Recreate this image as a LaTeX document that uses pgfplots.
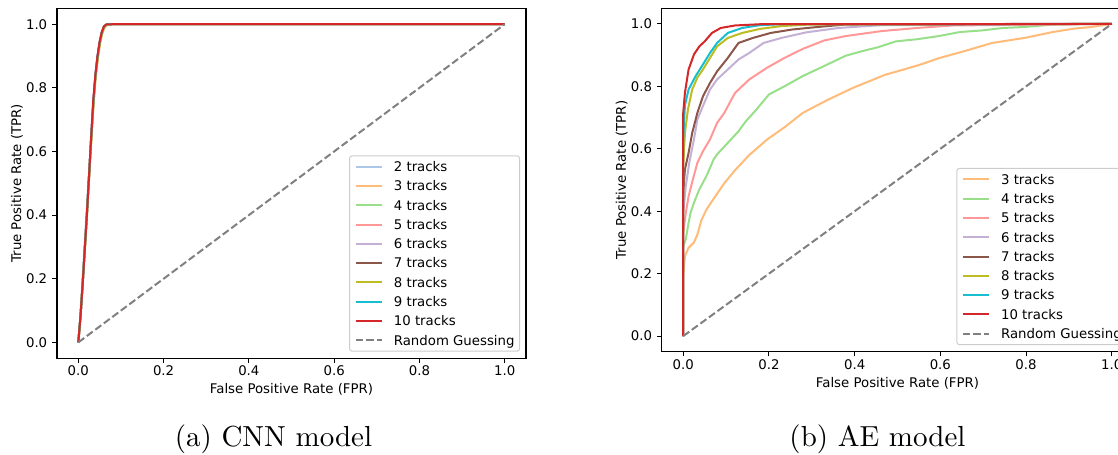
\documentclass[border=0pt]{standalone}
\usepackage{fontspec}
\usepackage{pgfplots}
\pgfplotsset{compat=1.18}
\newfontfamily\dejavu{DejaVu Sans}
\definecolor{c2}{HTML}{AEC7E8}
\definecolor{c3}{HTML}{FFBB78}
\definecolor{c4}{HTML}{98DF8A}
\definecolor{c5}{HTML}{FF9896}
\definecolor{c6}{HTML}{C5B0D5}
\definecolor{c7}{HTML}{8C564B}
\definecolor{c8}{HTML}{BCBD22}
\definecolor{c9}{HTML}{17BECF}
\definecolor{c10}{HTML}{D62728}
\definecolor{rg}{HTML}{808080}
\pgfplotsset{
  rocstyle/.style={
    scale only axis,
    xmin=-0.05, xmax=1.05, ymin=-0.05, ymax=1.05,
    xtick={0,0.2,0.4,0.6,0.8,1}, ytick={0,0.2,0.4,0.6,0.8,1},
    xticklabels={0.0,0.2,0.4,0.6,0.8,1.0},
    yticklabels={0.0,0.2,0.4,0.6,0.8,1.0},
    font=\dejavu\fontsize{13.3bp}{16bp}\selectfont,
    axis line style={black, line width=1.07bp},
    tick style={black, line width=1.07bp},
    tick align=outside, major tick length=4.7bp,
    tick pos=left,
    xticklabel style={inner sep=0pt, anchor=north, text height=9.7bp, text depth=0pt},
    yticklabel style={inner sep=0pt, anchor=east, text height=9.7bp, text depth=0pt},
    xticklabel shift=3bp, yticklabel shift=4.9bp,
    xlabel={False Positive Rate (FPR)},
    ylabel={True Positive Rate (TPR)},
    every axis x label/.style={at={(axis description cs:0.5,0)}, anchor=base, yshift=-35.5bp},
    legend cell align=left,
    legend image code/.code={\draw[#1] (0bp,0bp) -- (26.6bp,0bp);},
    legend style={at={(1,0)}, anchor=south east, xshift=-6bp, yshift=6.6bp,
      draw=black!20, line width=1bp, rounded corners=2.5bp, fill=white,
      inner xsep=5bp, inner ysep=6bp, row sep=9.6bp,
      nodes={inner sep=0pt, text height=9.7bp, text depth=0pt},
      /tikz/every odd column/.append style={column sep=10.6bp}},
    every axis plot/.append style={line width=2bp},
  }
}
\begin{document}
\begin{tikzpicture}
\useasboundingbox (0,0) rectangle (1118bp,455bp);
\begin{scope}
\clip (0,0) rectangle (1118bp,455bp);
\begin{axis}[rocstyle, at={(57bp,96.7bp)}, anchor=south west, width=469bp, height=350bp,
  every axis y label/.style={at={(axis description cs:-0.0853,0.5)}, rotate=90, anchor=center}]
\addplot[c2] coordinates {(0,0) (0.005,0.09) (0.01,0.2) (0.02,0.42) (0.03,0.65) (0.035,0.76) (0.04,0.84) (0.045,0.9) (0.05,0.945) (0.055,0.975) (0.06,0.993) (0.066,0.999) (0.08,1) (1,1)};
\addlegendentry{2 tracks}
\addplot[c3] coordinates {(0,0) (0.005,0.08) (0.01,0.18) (0.02,0.39) (0.03,0.62) (0.035,0.73) (0.04,0.82) (0.045,0.88) (0.05,0.93) (0.055,0.965) (0.06,0.985) (0.066,0.996) (0.075,1) (1,1)};
\addlegendentry{3 tracks}
\addplot[c4] coordinates {(0,0) (0.005,0.08) (0.01,0.18) (0.02,0.4) (0.03,0.63) (0.035,0.74) (0.04,0.83) (0.045,0.89) (0.05,0.94) (0.055,0.97) (0.06,0.99) (0.066,0.998) (0.078,1) (1,1)};
\addlegendentry{4 tracks}
\addplot[c5] coordinates {(0,0) (0.005,0.08) (0.01,0.18) (0.02,0.4) (0.03,0.64) (0.035,0.75) (0.04,0.835) (0.045,0.895) (0.05,0.94) (0.055,0.972) (0.06,0.99) (0.066,0.998) (0.078,1) (1,1)};
\addlegendentry{5 tracks}
\addplot[c6] coordinates {(0,0) (0.005,0.08) (0.01,0.18) (0.02,0.4) (0.03,0.64) (0.035,0.75) (0.04,0.835) (0.045,0.895) (0.05,0.94) (0.055,0.972) (0.06,0.99) (0.066,0.998) (0.078,1) (1,1)};
\addlegendentry{6 tracks}
\addplot[c7] coordinates {(0,0) (0.005,0.08) (0.01,0.18) (0.02,0.4) (0.03,0.64) (0.035,0.75) (0.04,0.838) (0.045,0.898) (0.05,0.943) (0.055,0.974) (0.06,0.992) (0.066,0.999) (0.078,1) (1,1)};
\addlegendentry{7 tracks}
\addplot[c8] coordinates {(0,0) (0.005,0.08) (0.01,0.18) (0.02,0.395) (0.03,0.63) (0.035,0.74) (0.04,0.83) (0.045,0.89) (0.05,0.935) (0.055,0.968) (0.06,0.988) (0.066,0.997) (0.078,1) (1,1)};
\addlegendentry{8 tracks}
\addplot[c9] coordinates {(0,0) (0.005,0.08) (0.01,0.18) (0.02,0.4) (0.03,0.64) (0.035,0.75) (0.04,0.838) (0.045,0.898) (0.05,0.943) (0.055,0.974) (0.06,0.992) (0.066,0.999) (0.078,1) (1,1)};
\addlegendentry{9 tracks}
\addplot[c10] coordinates {(0,0) (0.005,0.08) (0.01,0.18) (0.02,0.4) (0.03,0.64) (0.035,0.76) (0.04,0.84) (0.045,0.9) (0.05,0.945) (0.055,0.975) (0.06,0.993) (0.065,0.999) (0.08,1) (1,1)};
\addlegendentry{10 tracks}
\addplot[rg, line width=2bp, dash pattern=on 7.4bp off 3.2bp] coordinates {(0,0) (1,1)};
\addlegendentry{Random Guessing}
\end{axis}
\begin{axis}[rocstyle, at={(661.8bp,103.3bp)}, anchor=south west, width=471.4bp, height=343.4bp,
  every axis y label/.style={at={(axis description cs:-0.0849,0.5)}, rotate=90, anchor=center}]
\addplot[c3] coordinates {(0,0) (0,0.19) (0.004,0.256) (0.0125,0.283) (0.025,0.3) (0.033,0.325) (0.042,0.37) (0.054,0.405) (0.071,0.44) (0.096,0.49) (0.12,0.53) (0.154,0.58) (0.196,0.63) (0.2375,0.67) (0.279,0.715) (0.3375,0.757) (0.396,0.795) (0.471,0.837) (0.5125,0.853) (0.554,0.87) (0.596,0.89) (0.654,0.912) (0.721,0.939) (0.796,0.955) (0.8625,0.974) (0.9125,0.985) (0.946,0.989) (1,1)};
\addlegendentry{3 tracks}
\addplot[c4] coordinates {(0,0) (0,0.288) (0.006,0.31) (0.011,0.352) (0.017,0.395) (0.025,0.427) (0.0375,0.47) (0.054,0.512) (0.071,0.566) (0.079,0.582) (0.104,0.619) (0.129,0.656) (0.146,0.688) (0.171,0.726) (0.2,0.774) (0.2375,0.801) (0.279,0.833) (0.321,0.86) (0.379,0.898) (0.421,0.914) (0.454,0.925) (0.496,0.944) (0.546,0.951) (0.596,0.961) (0.646,0.974) (0.696,0.979) (0.746,0.987) (0.796,0.99) (0.8625,0.998) (1,1)};
\addlegendentry{4 tracks}
\addplot[c5] coordinates {(0,0) (0,0.331) (0.006,0.395) (0.0125,0.448) (0.0225,0.502) (0.033,0.555) (0.046,0.592) (0.0625,0.63) (0.079,0.683) (0.096,0.715) (0.1125,0.758) (0.121,0.779) (0.154,0.822) (0.196,0.86) (0.2375,0.892) (0.279,0.92) (0.329,0.947) (0.379,0.961) (0.4625,0.977) (0.546,0.987) (0.629,0.995) (1,1)};
\addlegendentry{5 tracks}
\addplot[c6] coordinates {(0,0) (0,0.395) (0.006,0.48) (0.014,0.555) (0.025,0.63) (0.033,0.694) (0.046,0.737) (0.0625,0.79) (0.079,0.822) (0.104,0.854) (0.129,0.886) (0.154,0.907) (0.1875,0.939) (0.229,0.955) (0.2875,0.973) (0.3625,0.987) (0.4625,0.996) (1,1)};
\addlegendentry{6 tracks}
\addplot[c7] coordinates {(0,0) (0,0.459) (0.004,0.534) (0.0125,0.587) (0.021,0.651) (0.033,0.715) (0.046,0.768) (0.0625,0.811) (0.079,0.848) (0.104,0.891) (0.129,0.939) (0.1625,0.955) (0.204,0.971) (0.254,0.982) (0.3125,0.99) (0.379,0.998) (1,1)};
\addlegendentry{7 tracks}
\addplot[c8] coordinates {(0,0) (0,0.544) (0.004,0.651) (0.011,0.726) (0.021,0.79) (0.033,0.828) (0.046,0.854) (0.0625,0.891) (0.079,0.928) (0.104,0.955) (0.1375,0.971) (0.179,0.984) (0.229,0.993) (0.296,0.998) (1,1)};
\addlegendentry{8 tracks}
\addplot[c9] coordinates {(0,0) (0,0.63) (0.004,0.74) (0.0125,0.79) (0.029,0.833) (0.046,0.87) (0.0625,0.907) (0.079,0.939) (0.104,0.971) (0.1375,0.987) (0.179,0.996) (0.229,0.999) (1,1)};
\addlegendentry{9 tracks}
\addplot[c10] coordinates {(0,0) (0,0.715) (0.004,0.78) (0.0125,0.854) (0.025,0.902) (0.0375,0.928) (0.05,0.944) (0.067,0.971) (0.0875,0.987) (0.121,0.995) (0.179,0.999) (1,1)};
\addlegendentry{10 tracks}
\addplot[rg, line width=2bp, dash pattern=on 7.4bp off 3.2bp] coordinates {(0,0) (1,1)};
\addlegendentry{Random Guessing}
\end{axis}
\end{scope}
\node[anchor=base, scale=2.9, inner sep=0pt] at (273.5bp,9bp) {\fontsize{10bp}{12bp}\selectfont (a) CNN model};
\node[anchor=base, scale=2.9, inner sep=0pt] at (877.5bp,9bp) {\fontsize{10bp}{12bp}\selectfont (b) AE model};
\end{tikzpicture}
\end{document}
